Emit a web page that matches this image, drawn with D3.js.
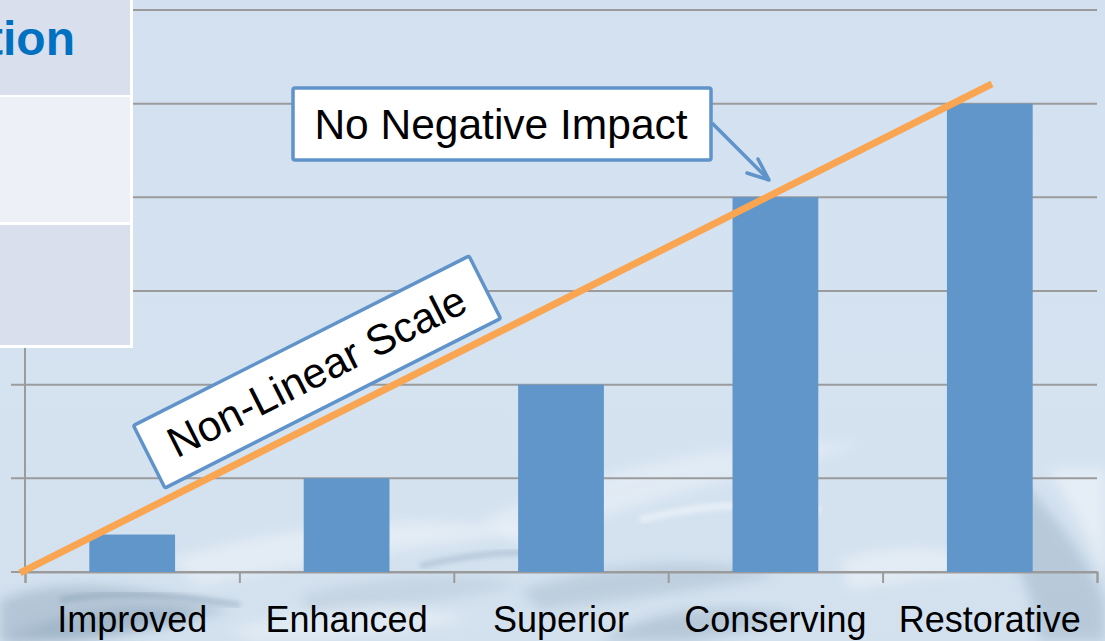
<!DOCTYPE html>
<html>
<head>
<meta charset="utf-8">
<script src="https://cdn.jsdelivr.net/npm/d3@7"></script>
<style>
  html, body { margin: 0; padding: 0; background: #d4e2f1; overflow: hidden; }
  svg { display: block; }
  text { font-family: "Liberation Sans", Arial, sans-serif; }
</style>
</head>
<body>
<svg id="chart" width="1105" height="641"></svg>
<script>
// Sustainability levels and their relative ranking (non-linear)
const categories = ["Improved", "Enhanced", "Superior", "Conserving", "Restorative"];
const values = [0.4, 1, 2, 4, 5];
const yTicks = [0, 1, 2, 3, 4, 5, 6];
// Trend line, as [category position, value]
const trendPoints = [[-0.023, -0.01], [4.51, 5.21]];

const W = 1105, H = 641;
const svg = d3.select("#chart");
const defs = svg.append("defs");

// ---- background: pale blue with soft water streaks near the bottom
const bg = defs.append("linearGradient").attr("id", "bg").attr("x1", 0).attr("y1", 0).attr("x2", 0).attr("y2", 1);
bg.append("stop").attr("offset", "0%").attr("stop-color", "#d2e0f0");
bg.append("stop").attr("offset", "60%").attr("stop-color", "#d5e3f1");
bg.append("stop").attr("offset", "100%").attr("stop-color", "#d3e1ee");
svg.append("rect").attr("width", W).attr("height", H).attr("fill", "url(#bg)");

defs.append("filter").attr("id", "soft").attr("x", "-20%").attr("y", "-20%").attr("width", "140%").attr("height", "140%")
  .append("feGaussianBlur").attr("stdDeviation", 6);
defs.append("filter").attr("id", "soft2").attr("x", "-20%").attr("y", "-20%").attr("width", "140%").attr("height", "140%")
  .append("feGaussianBlur").attr("stdDeviation", 2.5);

const water = svg.append("g");
const streaks = [
  { d: "M0,600 C60,575 140,585 230,610 C170,625 80,640 0,641 Z", fill: "#9fb4c7", op: 0.6, f: "soft" },
  { d: "M0,641 C40,620 120,600 200,615 C150,630 90,641 60,641 Z", fill: "#8ea6bc", op: 0.5, f: "soft" },
  { d: "M170,560 C300,520 420,515 540,530 C430,545 320,560 200,585 Z", fill: "#ffffff", op: 0.35, f: "soft" },
  { d: "M480,520 C600,470 720,440 860,445 C760,470 640,500 520,545 Z", fill: "#ffffff", op: 0.3, f: "soft" },
  { d: "M520,590 C620,560 700,555 780,575 C700,590 620,600 540,610 Z", fill: "#a9bccd", op: 0.5, f: "soft" },
  { d: "M300,595 C380,575 450,570 520,585 C460,600 380,610 310,615 Z", fill: "#b2c3d3", op: 0.4, f: "soft" },
  { d: "M960,430 C1020,470 1080,540 1105,600 L1105,641 L1040,641 C1030,580 1000,520 960,470 Z", fill: "#9db2c6", op: 0.5, f: "soft" },
  { d: "M1050,470 C1080,520 1100,560 1105,580 L1105,470 Z", fill: "#ffffff", op: 0.4, f: "soft" },
  { d: "M600,641 C650,610 720,600 800,615 C760,630 700,641 680,641 Z", fill: "#95aabf", op: 0.45, f: "soft" },
  { d: "M230,630 C330,600 420,600 470,620 C400,632 330,641 250,641 Z", fill: "#ffffff", op: 0.3, f: "soft" },
  { d: "M840,560 C900,540 960,545 1000,570 C950,575 900,580 850,590 Z", fill: "#ffffff", op: 0.35, f: "soft" },
  { d: "M420,566 C480,552 540,548 600,556", fill: "none", stroke: "#8ea4ba", op: 0.4, f: "soft2" },
  { d: "M640,520 C700,505 760,500 820,510", fill: "none", stroke: "#ffffff", op: 0.5, f: "soft2" },
  { d: "M60,600 C120,590 180,595 240,605", fill: "none", stroke: "#7f97ae", op: 0.4, f: "soft2" }
];
water.selectAll("path").data(streaks).join("path")
  .attr("d", d => d.d)
  .attr("fill", d => d.fill)
  .attr("stroke", d => d.stroke || "none")
  .attr("stroke-width", 6)
  .attr("opacity", d => d.op)
  .attr("filter", d => `url(#${d.f})`);

// ---- scales
const x = d3.scaleBand().domain(categories).range([25, 1097]).padding(0);
const xPos = d3.scaleLinear().domain([0, categories.length]).range([25, 1097]);
const y = d3.scaleLinear().domain([0, 6]).range([572, 10]);

// ---- gridlines and value axis
const gridColor = "#9b9b9b";
svg.append("g").selectAll("line").data(yTicks).join("line")
  .attr("x1", 11).attr("x2", 1097)
  .attr("y1", d => y(d)).attr("y2", d => y(d))
  .attr("stroke", gridColor).attr("stroke-width", 2);

svg.append("line")
  .attr("x1", 25).attr("x2", 25).attr("y1", y(6)).attr("y2", y(0))
  .attr("stroke", gridColor).attr("stroke-width", 2);

// ---- category axis
const xAxis = svg.append("g").attr("transform", `translate(0,${y(0)})`)
  .call(d3.axisBottom(xPos).tickValues(d3.range(0, categories.length + 1)).tickSize(11).tickFormat(""));
xAxis.select(".domain").attr("stroke", gridColor).attr("stroke-width", 2);
xAxis.selectAll(".tick line").attr("stroke", gridColor).attr("stroke-width", 2);

svg.append("g").selectAll("text").data(categories).join("text")
  .attr("x", d => x(d) + x.bandwidth() / 2)
  .attr("y", 632)
  .attr("text-anchor", "middle")
  .attr("font-size", 36)
  .attr("fill", "#000")
  .text(d => d);

// ---- bars (gap width 150%)
const barW = x.bandwidth() / 2.5;
svg.append("g").selectAll("rect").data(categories).join("rect")
  .attr("x", d => x(d) + (x.bandwidth() - barW) / 2)
  .attr("width", barW)
  .attr("y", (d, i) => y(values[i]))
  .attr("height", (d, i) => y(0) - y(values[i]))
  .attr("fill", "#6096c9");

// ---- table panel in the upper-left corner
const panel = svg.append("g");
const rows = [
  { y0: 0, y1: 95, fill: "#d9dfed" },
  { y0: 97, y1: 222, fill: "#edf0f6" },
  { y0: 225, y1: 345, fill: "#d9dfed" }
];
panel.append("rect").attr("x", -5).attr("y", -5).attr("width", 138).attr("height", 353).attr("fill", "#ffffff");
panel.selectAll("rect.row").data(rows).join("rect").attr("class", "row")
  .attr("x", -5).attr("y", d => d.y0).attr("width", 135).attr("height", d => d.y1 - d.y0)
  .attr("fill", d => d.fill);
panel.append("text")
  .attr("x", 75).attr("y", 55)
  .attr("text-anchor", "end")
  .attr("font-size", 48).attr("font-weight", "bold")
  .attr("fill", "#0070c0")
  .text("tion");

// ---- trend line
const line = d3.line().x(d => xPos(d[0])).y(d => y(d[1]));
svg.append("path").datum(trendPoints)
  .attr("d", line)
  .attr("fill", "none")
  .attr("stroke", "#f9a552")
  .attr("stroke-width", 7);

// ---- callouts
const boxBlue = "#5f93c9";

// "No Negative Impact" box with arrow
const c1 = svg.append("g");
c1.append("line").attr("x1", 712).attr("y1", 123).attr("x2", 769).attr("y2", 180)
  .attr("stroke", boxBlue).attr("stroke-width", 3.5);
c1.append("path").attr("d", "M758,159 L769,180 L747,173")
  .attr("fill", "none").attr("stroke", boxBlue).attr("stroke-width", 3.5)
  .attr("stroke-linecap", "round").attr("stroke-linejoin", "round");
c1.append("rect").attr("x", 293).attr("y", 88).attr("width", 418).attr("height", 72).attr("rx", 2)
  .attr("fill", "#ffffff").attr("stroke", boxBlue).attr("stroke-width", 3.5);
c1.append("text").attr("x", 501).attr("y", 139).attr("text-anchor", "middle")
  .attr("font-size", 42.5).attr("fill", "#000").text("No Negative Impact");

// "Non-Linear Scale" rotated box
const c2 = svg.append("g").attr("transform", "translate(317,372) rotate(-26.8)");
c2.append("rect").attr("x", -188).attr("y", -35).attr("width", 376).attr("height", 70).attr("rx", 2)
  .attr("fill", "#ffffff").attr("stroke", boxBlue).attr("stroke-width", 3.5);
c2.append("text").attr("x", 0).attr("y", 14).attr("text-anchor", "middle")
  .attr("font-size", 42.5).attr("fill", "#000").text("Non-Linear Scale");
</script>
</body>
</html>
